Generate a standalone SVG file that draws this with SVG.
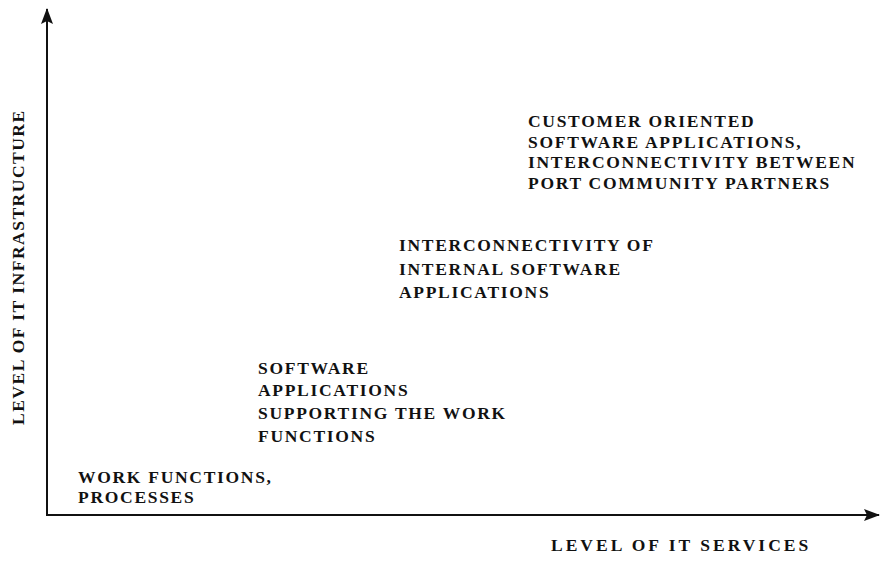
<svg xmlns="http://www.w3.org/2000/svg" width="880" height="574" viewBox="0 0 880 574">
<defs>
<style>
.t{font-family:"Liberation Serif","Times New Roman",serif;font-weight:bold;font-size:17.5px;letter-spacing:1.7px;fill:#111}
.wide{letter-spacing:3px}
.ax{stroke:#111;stroke-width:2;fill:none}
</style>
<marker id="ah" viewBox="0 0 16 12" refX="15" refY="6" markerWidth="16" markerHeight="12" markerUnits="userSpaceOnUse" orient="auto"><path d="M0,0L16,6L0,12L3,6z" fill="#111"/></marker>
</defs>
<rect width="880" height="574" fill="#fff"/>
<g id="connectors">
<line class="ax" x1="47" y1="516" x2="47" y2="9" marker-end="url(#ah)"/>
<line class="ax" x1="46" y1="515" x2="879" y2="515" marker-end="url(#ah)"/>
</g>
<g id="yaxis-label"><text class="t" style="letter-spacing:1.5px" transform="translate(24,425) rotate(-90)">LEVEL OF IT INFRASTRUCTURE</text></g>
<g id="xaxis-label"><text class="t wide" x="551" y="551">LEVEL OF IT SERVICES</text></g>
<g id="n1"><text class="t" x="78" y="483">WORK FUNCTIONS,</text><text class="t" x="78" y="503">PROCESSES</text></g>
<g id="n2"><text class="t" x="258" y="374">SOFTWARE</text><text class="t" x="258" y="396">APPLICATIONS</text><text class="t" x="258" y="419">SUPPORTING THE WORK</text><text class="t" x="258" y="442">FUNCTIONS</text></g>
<g id="n3"><text class="t" x="399" y="251">INTERCONNECTIVITY OF</text><text class="t" x="399" y="275">INTERNAL SOFTWARE</text><text class="t" x="399" y="298">APPLICATIONS</text></g>
<g id="n4"><text class="t" x="528" y="127">CUSTOMER ORIENTED</text><text class="t" x="528" y="148">SOFTWARE APPLICATIONS,</text><text class="t" x="528" y="168">INTERCONNECTIVITY BETWEEN</text><text class="t" x="528" y="189">PORT COMMUNITY PARTNERS</text></g>
</svg>
